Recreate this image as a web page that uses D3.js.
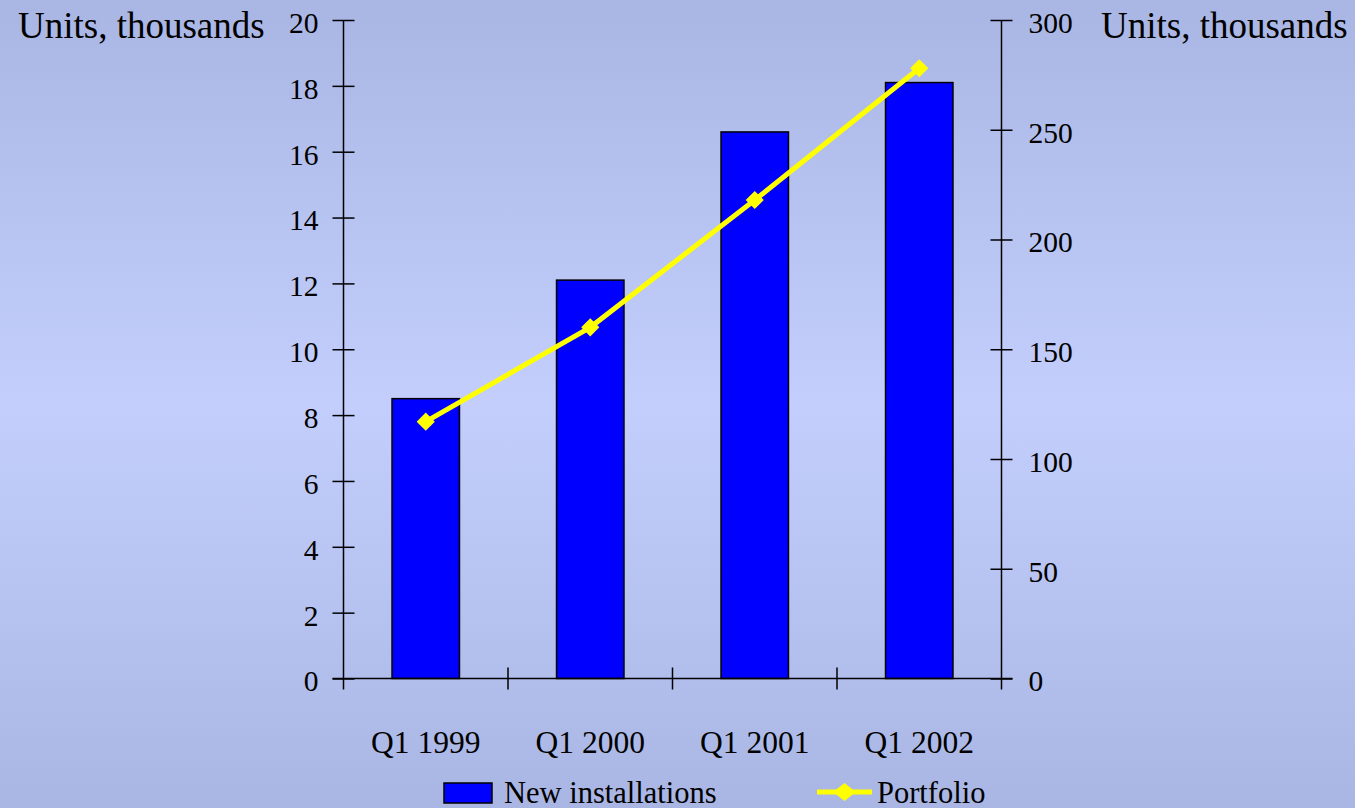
<!DOCTYPE html>
<html>
<head>
<meta charset="utf-8">
<script src="https://cdn.jsdelivr.net/npm/d3@7"></script>
<style>
  html, body { margin: 0; padding: 0; }
  body { width: 1355px; height: 808px; overflow: hidden; }
  svg { display: block; font-family: "Liberation Serif", "Times New Roman", serif; }
</style>
</head>
<body>
<svg id="chart" width="1355" height="808"></svg>
<script>
// Quarterly figures, thousands of units
const categories = ["Q1 1999", "Q1 2000", "Q1 2001", "Q1 2002"];
const newInstallations = [8.5, 12.1, 16.6, 18.1];
const portfolio = [117, 160, 218, 278];
const leftTicks = [0, 2, 4, 6, 8, 10, 12, 14, 16, 18, 20];
const rightTicks = [0, 50, 100, 150, 200, 250, 300];
const axisTitle = "Units, thousands";
const seriesNames = ["New installations", "Portfolio"];

const svg = d3.select("#chart");

// Background: soft vertical gradient, lighter through the middle
const defs = svg.append("defs");
const grad = defs.append("linearGradient")
  .attr("id", "bg").attr("x1", 0).attr("y1", 0).attr("x2", 0).attr("y2", 1);
grad.append("stop").attr("offset", "0%").attr("stop-color", "#a9b6e4");
grad.append("stop").attr("offset", "50%").attr("stop-color", "#c3cefc");
grad.append("stop").attr("offset", "100%").attr("stop-color", "#a9b6e3");
svg.append("rect").attr("width", 1355).attr("height", 808).attr("fill", "url(#bg)");

const plot = { left: 343.5, right: 1001.5, top: 20, bottom: 678.5 };
const tick = 11;

const x = d3.scaleBand().domain(categories).range([plot.left, plot.right]).padding(0);
const yL = d3.scaleLinear().domain([0, 20]).range([plot.bottom, plot.top]);
const yR = d3.scaleLinear().domain([0, 300]).range([plot.bottom, plot.top]);

const barW = x.bandwidth() * 0.41;

// Bars
svg.append("g").selectAll("rect").data(newInstallations).join("rect")
  .attr("x", (d, i) => x(categories[i]) + (x.bandwidth() - barW) / 2)
  .attr("y", d => yL(d))
  .attr("width", barW)
  .attr("height", d => yL(0) - yL(d))
  .attr("fill", "#0000ff")
  .attr("stroke", "#000")
  .attr("stroke-width", 1.5);

// Left axis with ticks crossing the line
const gL = svg.append("g").attr("transform", `translate(${plot.left},0)`)
  .call(d3.axisLeft(yL).tickValues(leftTicks).tickSize(tick).tickPadding(14).tickSizeOuter(0));
gL.select(".domain").remove();
gL.selectAll(".tick line").attr("x1", tick).attr("stroke", "#000").attr("stroke-width", 1.5);
gL.selectAll(".tick text").attr("font-size", 29.5).attr("fill", "#000")
  .attr("font-family", "Liberation Serif, Times New Roman, serif").attr("dy", "0.42em");
gL.append("line").attr("x1", 0).attr("x2", 0).attr("y1", yL(20)).attr("y2", plot.bottom + tick)
  .attr("stroke", "#000").attr("stroke-width", 1.5);

// Right axis
const gR = svg.append("g").attr("transform", `translate(${plot.right},0)`)
  .call(d3.axisRight(yR).tickValues(rightTicks).tickSize(tick).tickPadding(16).tickSizeOuter(0));
gR.select(".domain").remove();
gR.selectAll(".tick line").attr("x1", -tick).attr("stroke", "#000").attr("stroke-width", 1.5);
gR.selectAll(".tick text").attr("font-size", 29.5).attr("fill", "#000")
  .attr("font-family", "Liberation Serif, Times New Roman, serif").attr("dy", "0.42em");
gR.append("line").attr("x1", 0).attr("x2", 0).attr("y1", yR(300)).attr("y2", plot.bottom + tick)
  .attr("stroke", "#000").attr("stroke-width", 1.5);

// Category axis: labels at band centres, ticks at band boundaries
const gX = svg.append("g").attr("transform", `translate(0,${plot.bottom})`)
  .call(d3.axisBottom(x).tickSize(0).tickPadding(52));
gX.select(".domain").remove();
gX.selectAll(".tick text").attr("font-size", 31.5).attr("fill", "#000")
  .attr("font-family", "Liberation Serif, Times New Roman, serif");
svg.append("line")
  .attr("x1", plot.left - tick).attr("x2", plot.right + tick)
  .attr("y1", plot.bottom).attr("y2", plot.bottom)
  .attr("stroke", "#000").attr("stroke-width", 1.5);
const bounds = categories.map(c => x(c)).concat([x.range()[1]]);
svg.append("g").selectAll("line").data(bounds.slice(1, -1)).join("line")
  .attr("x1", d => d).attr("x2", d => d)
  .attr("y1", plot.bottom - tick).attr("y2", plot.bottom + tick)
  .attr("stroke", "#000").attr("stroke-width", 1.5);

// Portfolio line with diamond markers
const line = d3.line()
  .x((d, i) => x(categories[i]) + x.bandwidth() / 2)
  .y(d => yR(d));
svg.append("path").datum(portfolio)
  .attr("d", line)
  .attr("fill", "none").attr("stroke", "#ffff00").attr("stroke-width", 5);
const diamond = d3.symbol().type(d3.symbolSquare).size(165);
svg.append("g").selectAll("path").data(portfolio).join("path")
  .attr("d", diamond)
  .attr("transform", (d, i) => `translate(${x(categories[i]) + x.bandwidth() / 2},${yR(d)}) rotate(45)`)
  .attr("fill", "#ffff00");

// Axis titles
svg.append("text").attr("x", 18).attr("y", 38).attr("font-size", 37).text(axisTitle);
svg.append("text").attr("x", 1101).attr("y", 38).attr("font-size", 37).text(axisTitle);

// Legend
const lg = svg.append("g");
lg.append("rect").attr("x", 444).attr("y", 783).attr("width", 48).attr("height", 20)
  .attr("fill", "#0000ff").attr("stroke", "#000").attr("stroke-width", 1.5);
lg.append("text").attr("x", 504).attr("y", 803).attr("font-size", 30.5).text(seriesNames[0]);
lg.append("line").attr("x1", 817).attr("x2", 872).attr("y1", 792).attr("y2", 792)
  .attr("stroke", "#ffff00").attr("stroke-width", 5);
lg.append("path").attr("d", diamond)
  .attr("transform", "translate(844.5,792) scale(1.25,1) rotate(45)").attr("fill", "#ffff00");
lg.append("text").attr("x", 877).attr("y", 803).attr("font-size", 30.5).text(seriesNames[1]);
</script>
</body>
</html>
